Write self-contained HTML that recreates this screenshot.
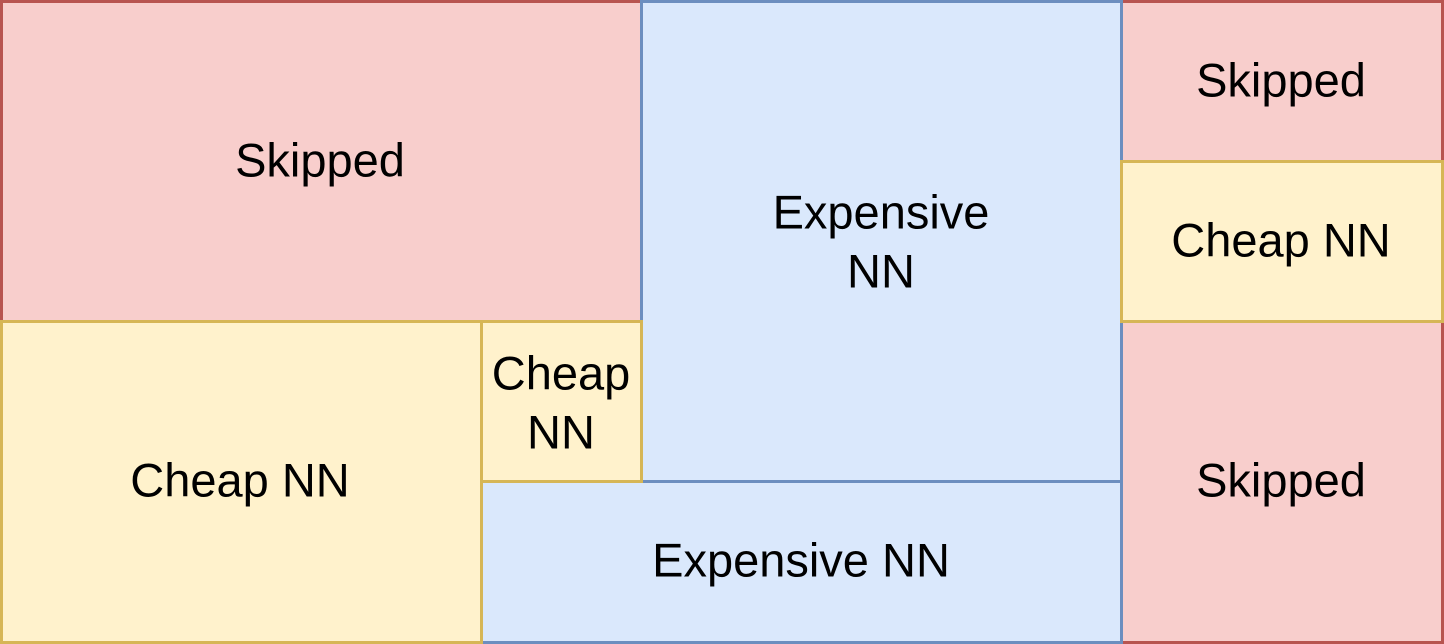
<!DOCTYPE html>
<html><head><meta charset="utf-8"><style>
html,body{margin:0;padding:0;background:#fff;}
svg{display:block;}
text{font-family:"Liberation Sans",Arial,sans-serif;font-size:47px;fill:#000;text-anchor:middle;dominant-baseline:central;}
</style></head><body>
<svg width="1444" height="644" viewBox="0 0 1444 644">
<g stroke-width="3">
<rect x="1.5" y="1.5" width="640" height="320" fill="#f8cecc" stroke="#b85450"/>
<rect x="1121.5" y="1.5" width="321" height="160" fill="#f8cecc" stroke="#b85450"/>
<rect x="1121.5" y="321.5" width="321" height="321" fill="#f8cecc" stroke="#b85450"/>
<rect x="641.5" y="1.5" width="480" height="480" fill="#dae8fc" stroke="#6c8ebf"/>
<rect x="481.5" y="481.5" width="640" height="161" fill="#dae8fc" stroke="#6c8ebf"/>
<rect x="1.5" y="321.5" width="480" height="321" fill="#fff2cc" stroke="#d6b656"/>
<rect x="481.5" y="321.5" width="160" height="160" fill="#fff2cc" stroke="#d6b656"/>
<rect x="1121.5" y="161.5" width="321" height="160" fill="#fff2cc" stroke="#d6b656"/>
</g>
<text x="320" y="160">Skipped</text>
<text x="881" y="212">Expensive</text>
<text x="881" y="271">NN</text>
<text x="1281" y="80">Skipped</text>
<text x="1281" y="240">Cheap NN</text>
<text x="1281" y="480">Skipped</text>
<text x="561" y="373">Cheap</text>
<text x="561" y="432">NN</text>
<text x="240" y="480">Cheap NN</text>
<text x="801" y="560">Expensive NN</text>
</svg>
</body></html>
